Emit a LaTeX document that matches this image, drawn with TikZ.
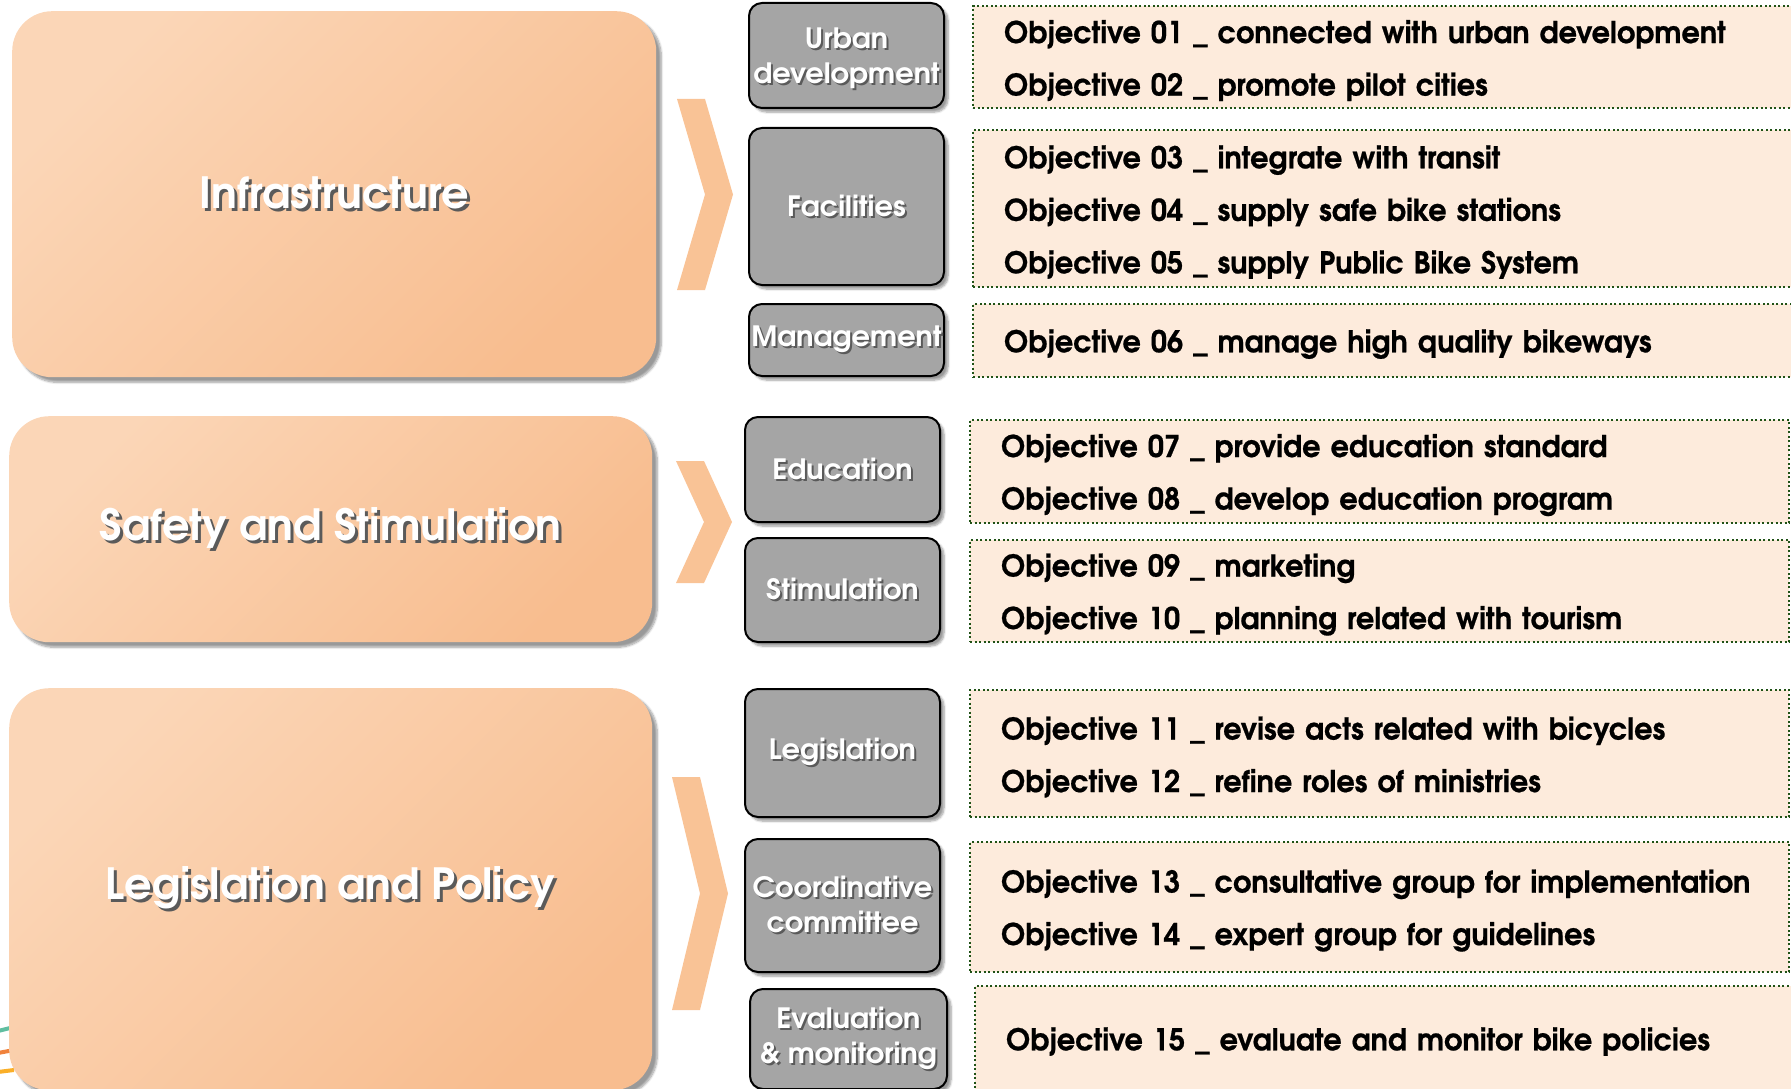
\documentclass[tikz,border=0pt]{standalone}
\usepackage{fontspec}
\setmainfont{texgyreadventor-regular.otf}
\newfontfamily\objfont{texgyreadventor-bold.otf}[FakeStretch=0.96, FakeBold=0.6]
\newfontfamily\catfont{texgyreadventor-bold.otf}[FakeStretch=1.03]
\newfontfamily\themefont{texgyreadventor-bold.otf}
\usetikzlibrary{shadows.blur}

\definecolor{peachlight}{RGB}{251,214,183}
\definecolor{peachdark}{RGB}{248,189,143}
\definecolor{chevfill}{RGB}{249,195,150}
\definecolor{catgrey}{RGB}{165,165,165}
\definecolor{objfill}{RGB}{253,235,220}
\definecolor{objline}{RGB}{32,82,22}
\definecolor{txtshadow}{RGB}{90,90,90}
\definecolor{logoteal}{RGB}{96,190,160}
\definecolor{logoorange}{RGB}{240,130,60}
\definecolor{logoyellow}{RGB}{250,175,40}

% white label with a dark offset copy underneath
\newcommand{\shadowed}[2][2pt]{\leavevmode\rlap{\kern#1\raisebox{-#1}{\color{txtshadow}#2}}#2}

\begin{document}
\begin{tikzpicture}[x=1pt, y=-1pt,
    bigbox/.style={rounded corners=40pt, left color=peachlight, right color=peachdark,
        shading angle=45, blur shadow={shadow xshift=5pt, shadow yshift=-5pt, shadow blur steps=8},
        text=white, font=\themefont\fontsize{43}{50}\selectfont, anchor=north west, inner sep=0pt},
    catbox/.style={draw=black, line width=2pt, rounded corners=13pt, fill=catgrey,
        blur shadow={shadow xshift=4pt, shadow yshift=-4pt, shadow blur steps=6},
        text=white, font=\catfont\fontsize{28}{35}\selectfont, align=center,
        anchor=north west, inner sep=0pt, minimum width=195pt},
    objbox/.style={draw=objline, line width=2.2pt, dash pattern=on 2pt off 2.5pt, fill=objfill,
        anchor=north west, align=left, inner xsep=31pt, inner ysep=0pt, text width=#1,
        font=\objfont\fontsize{30}{52.5}\selectfont, execute at begin node={\rule{0pt}{30pt}}},
    objbox/.default=761pt,
    chevron/.style={fill=chevfill}]
    \useasboundingbox (0,0) rectangle (1791,1089);

    % bits of the logo peeking out on the left
    \draw[logoteal, line width=4pt] (-2,1031) -- (14,1027);
    \draw[logoorange, line width=4pt] (-2,1053) -- (14,1050);
    \draw[logoyellow, line width=4pt] (-2,1072) -- (14,1070);

    % the three themes
    \node[bigbox, minimum width=644pt, minimum height=366pt] (infra) at (12,11)
        {\shadowed[3pt]{Infrastructure}};
    \node[bigbox, minimum width=643pt, minimum height=226pt] (safety) at (9,416)
        {\shadowed[3pt]{Safety and Stimulation}};
    \node[bigbox, minimum width=643pt, minimum height=402pt] (legpol) at (9,688)
        {\shadowed[3pt]{Legislation and Policy}};

    \foreach \x/\t/\b in {677/99/290, 676/461/583, 672/777/1010}
        \fill[chevron] (\x,\t) -- (\x+28,\t) -- (\x+56,{(\t+\b)/2}) -- (\x+28,\b)
            -- (\x,\b) -- (\x+28,{(\t+\b)/2}) -- cycle;

    % fields
    \node[catbox, minimum height=105pt] (urban) at (748,2)
        {\rule{0pt}{28pt}\shadowed{Urban}\\\shadowed{development}};
    \node[catbox, minimum height=157pt] (facil) at (748,127) {\shadowed{Facilities}};
    \node[catbox, minimum height=72pt] (manage) at (748,303) {\shadowed{Management}};
    \node[catbox, minimum height=105pt] (edu) at (744,416) {\shadowed{Education}};
    \node[catbox, minimum height=104pt] (stim) at (744,537) {\shadowed{Stimulation}};
    \node[catbox, minimum height=128pt] (legis) at (744,688) {\shadowed{Legislation}};
    \node[catbox, minimum height=133pt] (coord) at (744,838) {\shadowed{Coordinative}\\\shadowed{committee}};
    \node[catbox, minimum width=197pt, minimum height=100pt] (evalm) at (749,988)
        {\shadowed{Evaluation}\\\shadowed{\& monitoring}};

    % objectives
    \node[objbox=763pt, minimum height=102pt] (obj1) at (972,5)
        {Objective 01 \_ connected with urban development\\Objective 02 \_ promote pilot cities};
    \node[objbox=763pt, minimum height=157pt] (obj2) at (972,129)
        {Objective 03 \_ integrate with transit\\Objective 04 \_ supply safe bike stations\\Objective 05 \_ supply Public Bike System};
    \node[objbox=763pt, minimum height=73pt] (obj3) at (972,303)
        {Objective 06 \_ manage high quality bikeways};
    \node[objbox=757pt, minimum height=103pt] (obj4) at (969,419)
        {Objective 07 \_ provide education standard\\Objective 08 \_ develop education program};
    \node[objbox=757pt, minimum height=102pt] (obj5) at (969,539)
        {Objective 09 \_ marketing\\Objective 10 \_ planning related with tourism};
    \node[objbox=757pt, minimum height=127pt] (obj6) at (969,689)
        {Objective 11 \_ revise acts related with bicycles\\Objective 12 \_ refine roles of ministries};
    \node[objbox=757pt, minimum height=130pt] (obj7) at (969,841)
        {Objective 13 \_ consultative group for implementation\\Objective 14 \_ expert group for guidelines};
    \node[objbox=763pt, minimum height=104pt] (obj8) at (974,985)
        {Objective 15 \_ evaluate and monitor bike policies};
\end{tikzpicture}
\end{document}
